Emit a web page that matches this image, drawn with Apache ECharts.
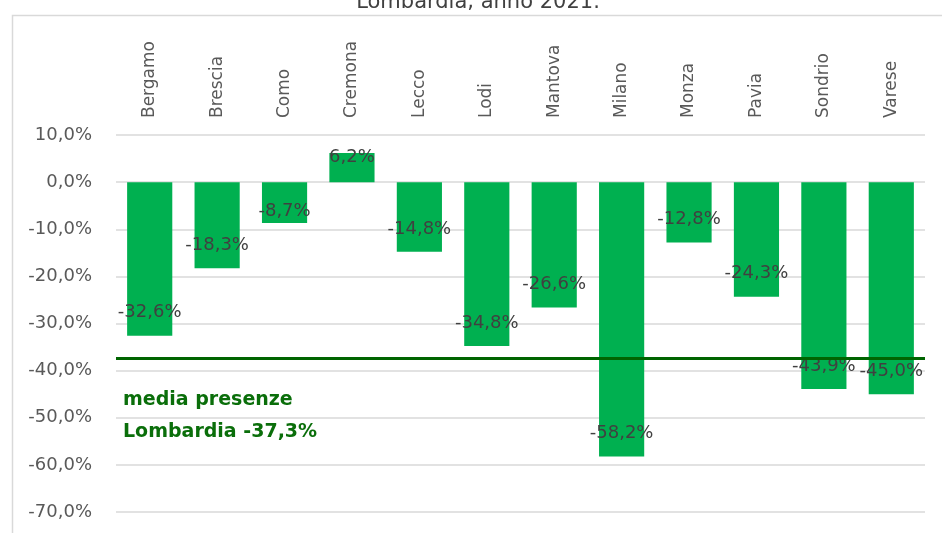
<!DOCTYPE html>
<html>
<head>
<meta charset="utf-8">
<script src="https://cdn.jsdelivr.net/npm/echarts@6/dist/echarts.min.js"></script>
<style>
  html, body { margin: 0; padding: 0; background: #fff; }
  #chart { width: 942px; height: 533px; }
</style>
</head>
<body>
<div id="chart"></div>
<script>
// province e variazione presenze 2021
var province = ['Bergamo', 'Brescia', 'Como', 'Cremona', 'Lecco', 'Lodi', 'Mantova', 'Milano', 'Monza', 'Pavia', 'Sondrio', 'Varese'];
var variazione = [-32.6, -18.3, -8.7, 6.2, -14.8, -34.8, -26.6, -58.2, -12.8, -24.3, -43.9, -45.0];
var mediaLombardia = -37.3;
var titolo = 'Lombardia, anno 2021.';

var fontFam = 'DejaVu Sans';
function fmt(v) { return v.toFixed(1).replace('.', ',') + '%'; }

// etichette: per le barre corte/positive si sposta il testo
var datiBarre = variazione.map(function (v) {
    if (v > 0) return { value: v, label: { position: 'insideTop', distance: 0, offset: [0, -5] } };
    if (v > -10) return { value: v, label: { distance: 3 } };
    return v;
});

var chart = echarts.init(document.getElementById('chart'));
chart.setOption({
    animation: false,
    backgroundColor: '#fff',
    grid: { left: 116, right: 17, top: 135, bottom: 21 },
    xAxis: {
        type: 'category',
        position: 'top',
        data: province,
        axisLine: { show: false },
        axisTick: { show: false },
        axisLabel: { rotate: 90, margin: 17, color: '#595959', fontSize: 17, fontFamily: fontFam }
    },
    yAxis: {
        type: 'value',
        min: -70,
        max: 10,
        interval: 10,
        axisLine: { show: false },
        axisTick: { show: false },
        splitLine: { lineStyle: { color: '#d9d9d9', width: 1.5 } },
        axisLabel: {
            margin: 24, color: '#595959', fontSize: 18, fontFamily: fontFam,
            formatter: function (v) { return fmt(v); }
        }
    },
    series: [{
        type: 'bar',
        data: datiBarre,
        barCategoryGap: '33%',
        itemStyle: { color: '#00b050' },
        label: {
            show: true,
            position: 'insideBottom',
            distance: 14,
            color: '#404040',
            fontSize: 18,
            fontFamily: fontFam,
            formatter: function (p) { return fmt(p.value); }
        },
        markLine: {
            silent: true,
            symbol: 'none',
            label: { show: false },
            lineStyle: { color: '#006400', width: 3, type: 'solid' },
            data: [{ yAxis: mediaLombardia }]
        }
    }],
    graphic: [
        {
            type: 'rect', left: 10, top: 13, silent: true, z: -1,
            shape: { width: 960, height: 560 },
            style: { fill: 'none', stroke: '#d9d9d9', lineWidth: 1.5 }
        },
        {
            type: 'text', x: 478, y: 13,
            style: { text: titolo, fill: '#404040', font: '21px ' + fontFam, textAlign: 'center', textVerticalAlign: 'bottom' }
        },
        {
            type: 'text', x: 123, y: 384,
            style: {
                text: 'media presenze\nLombardia ' + fmt(mediaLombardia),
                fill: '#0a6e0a', font: 'bold 19px ' + fontFam, lineHeight: 32
            }
        }
    ]
});
</script>
</body>
</html>
